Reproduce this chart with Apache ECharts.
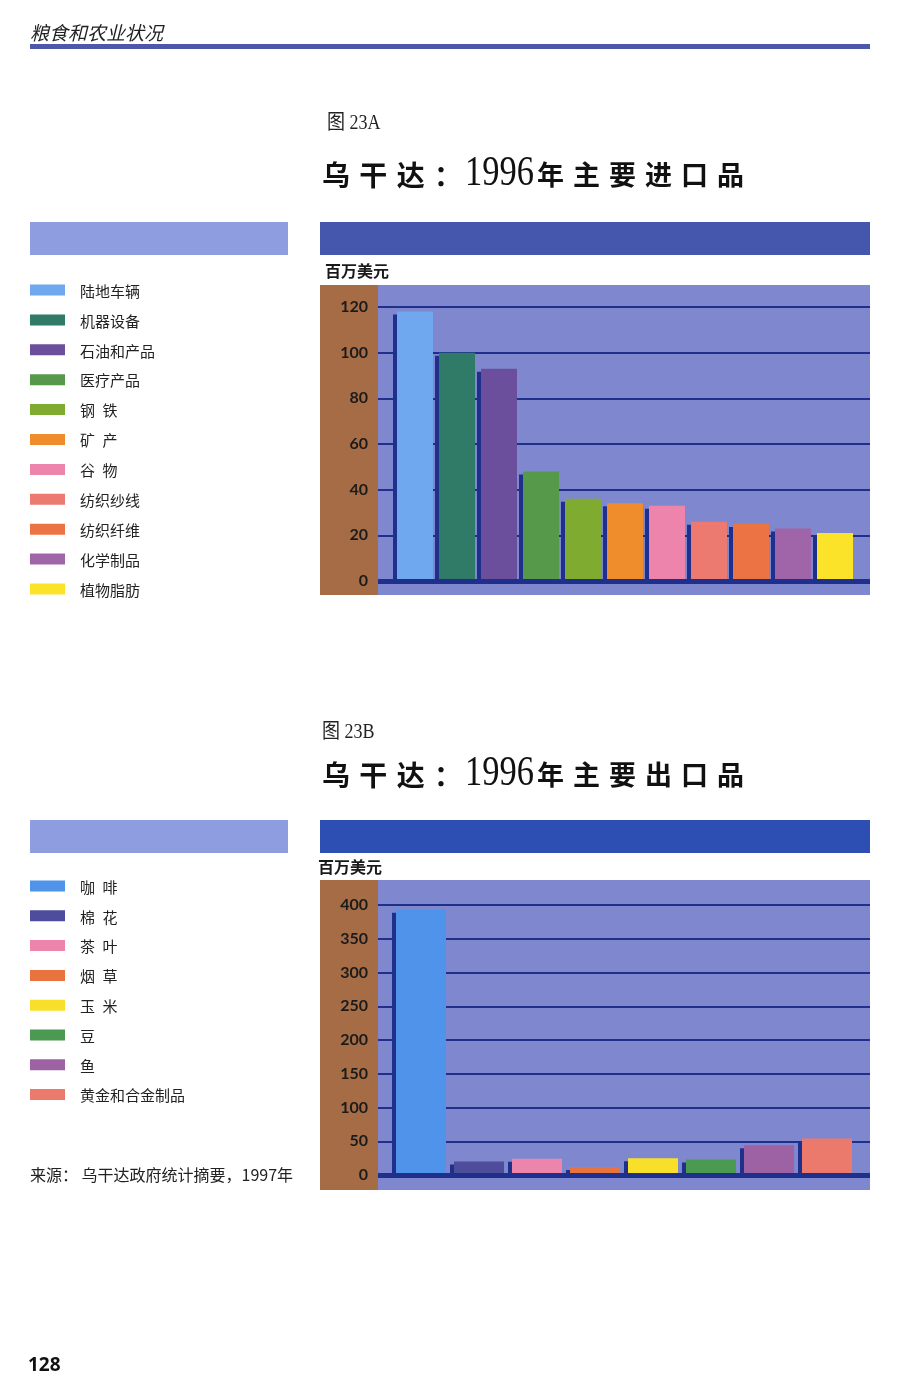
<!DOCTYPE html>
<html>
<head>
<meta charset="utf-8">
<script src="https://cdn.jsdelivr.net/npm/echarts@6/dist/echarts.min.js"></script>
<style>
html,body{margin:0;padding:0;background:#fff;}
#chart{width:900px;height:1400px;}
</style>
</head>
<body>
<div id="chart"></div>
<script>
// ---------- data ----------
const importCategories = ['陆地车辆','机器设备','石油和产品','医疗产品','钢 铁','矿 产','谷 物','纺织纱线','纺织纤维','化学制品','植物脂肪'];
const importValues = [118, 100, 93, 48, 36, 34, 33, 26, 25, 23, 21];
const importColors = ['#6fa8ee','#2f7b68','#6b4f9c','#57994a','#7fab30','#ef8c2c','#ec84ac','#ec7a70','#ec7344','#a065a8','#fbe32a'];
const importTicks = {min: 0, max: 120, interval: 20};

const exportCategories = ['咖 啡','棉 花','茶 叶','烟 草','玉 米','豆','鱼','黄金和合金制品'];
const exportValues = [393, 20, 24, 12, 25, 23, 44, 54];
const exportColors = ['#4f93ea','#4d4d9c','#ec84ac','#e8733e','#f8e02a','#4c9a52','#9c62a4','#ec7a6c'];
const exportTicks = {min: 0, max: 400, interval: 50};

const unitLabel = '百万美元';
const headerText = '粮食和农业状况';
const figA = '图 23A';
const figB = '图 23B';
const sourceText = '来源： 乌干达政府统计摘要，1997年';
const pageNumber = '128';

// ---------- styles ----------
const NAVY = '#1e2f8c';
const PLOT_BG = '#7f88cf';
const BROWN = '#a56c46';
const CJK = '"Noto Sans CJK SC"';
const SERIF = '"Liberation Serif", "Noto Sans CJK SC"';

const chart = echarts.init(document.getElementById('chart'));

const deco = [];
function rect(x, y, w, h, fill, z) {
  deco.push({type: 'rect', z: z === undefined ? -1 : z, silent: true, shape: {x, y, width: w, height: h}, style: {fill}});
}
function text(str, x, y, font, fill, extra) {
  deco.push(Object.assign({type: 'text', z: 10, silent: true, x, y,
    style: {text: str, font, fill: fill || '#1a1a1a', verticalAlign: 'middle', align: 'left'}}, extra || {}));
}
const spaced = s => s.split('').join('\u2004');

// header
text(headerText, 30, 33, 'italic 19px ' + CJK, '#222');
rect(30, 44, 840, 5, '#4d58a8', 1);

function panel(opts) {
  text(opts.fig, opts.figX, opts.figY, '20px ' + SERIF, '#222', {scaleX: 0.9});
  text(spaced(opts.t1), 322, opts.titleY, 'bold 28px ' + CJK, '#111');
  text('1996', 465, opts.titleY - 1, '42px "Liberation Serif"', '#111', {scaleX: 0.82});
  text(spaced(opts.t2), 537, opts.titleY, 'bold 27px ' + CJK, '#111');
  rect(30, opts.barY, 258, 33, '#8e9de0', 1);
  rect(320, opts.barY, 550, 33, opts.darkBar, 1);
  text(unitLabel, opts.unitX, opts.unitY, 'bold 16px ' + CJK, '#1a1a1a');
  rect(378, opts.plotY, 492, 310, PLOT_BG, -1);
  rect(320, opts.plotY, 58, 310, BROWN, -1);
  opts.cats.forEach((c, i) => {
    const y = opts.legY + i * opts.legStep;
    rect(30, y - 5.5, 35, 11, opts.colors[i], 1);
    text(c.replace(/ /g, '\u2002'), 80, y + 1, '15px ' + CJK, '#222');
  });
}

panel({fig: figA, figX: 327, figY: 124, t1: '乌干达：', t2: '年主要进口品', titleY: 175, barY: 222, darkBar: '#4556ad',
  unitX: 325, unitY: 271, plotY: 285, cats: importCategories, colors: importColors, legY: 290, legStep: 29.9});
panel({fig: figB, figX: 322, figY: 733, t1: '乌干达：', t2: '年主要出口品', titleY: 775, barY: 820, darkBar: '#2d4fb4',
  unitX: 318, unitY: 867, plotY: 880, cats: exportCategories, colors: exportColors, legY: 886, legStep: 29.8});

text(sourceText, 30, 1175, '16px ' + CJK, '#222');
text(pageNumber, 28, 1366, 'bold 19px "Open Sans"', '#111');

// ---------- axes ----------
function bgX(grid) {
  return {gridIndex: grid, type: 'category', data: [''], z: 5,
    axisLine: {show: true, lineStyle: {color: NAVY, width: 5, cap: 'butt'}},
    axisTick: {show: false}, axisLabel: {show: false}, splitLine: {show: false}};
}
function bgY(grid, t) {
  return {gridIndex: grid, type: 'value', min: t.min, max: t.max, interval: t.interval,
    axisLine: {show: false}, axisTick: {show: false},
    splitLine: {show: true, lineStyle: {color: NAVY, width: 2}},
    axisLabel: {show: true, margin: 10, color: '#1b1b1b', fontFamily: 'Lato', fontWeight: 'bold', fontSize: 16,
      padding: [0, 0, 7, 0]}};
}
function barX(grid, cats) {
  return {gridIndex: grid, type: 'category', data: cats, show: false};
}
function barY(grid, t) {
  return {gridIndex: grid, type: 'value', min: t.min, max: t.max, show: false};
}
function barSeries(axis, vals, colors, width) {
  return {type: 'bar', xAxisIndex: axis, yAxisIndex: axis, barWidth: width, z: 3,
    itemStyle: {shadowColor: NAVY, shadowBlur: 0, shadowOffsetX: -4, shadowOffsetY: 3},
    data: vals.map((v, i) => ({value: v, itemStyle: {color: colors[i]}}))};
}

chart.setOption({
  animation: false,
  backgroundColor: '#ffffff',
  grid: [
    {left: 378, width: 492, top: 307, height: 274},
    {left: 394, width: 462, top: 307, height: 274},
    {left: 378, width: 492, top: 905, height: 270},
    {left: 392, width: 464, top: 905, height: 270}
  ],
  xAxis: [bgX(0), barX(1, importCategories), bgX(2), barX(3, exportCategories)],
  yAxis: [bgY(0, importTicks), barY(1, importTicks), bgY(2, exportTicks), barY(3, exportTicks)],
  series: [
    barSeries(1, importValues, importColors, 36),
    barSeries(3, exportValues, exportColors, 50)
  ],
  graphic: {elements: deco}
});
</script>
</body>
</html>
